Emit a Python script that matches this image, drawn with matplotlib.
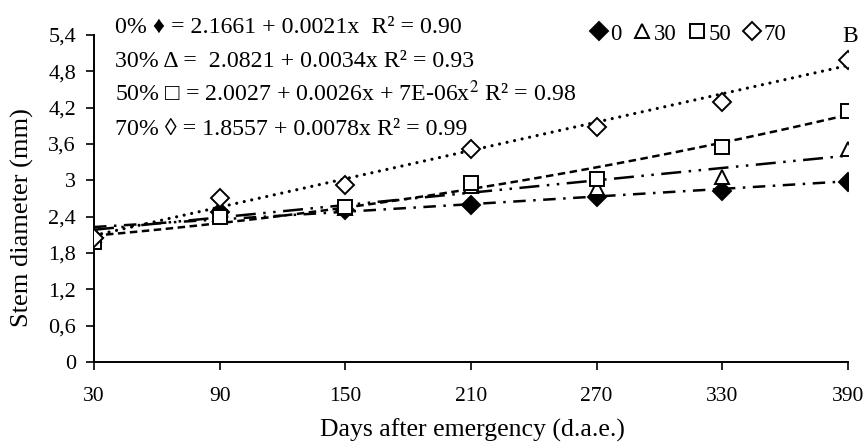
import numpy as np
import matplotlib
matplotlib.use("Agg")
import matplotlib.pyplot as plt
from matplotlib.lines import Line2D

plt.rcParams['font.family'] = ['Liberation Serif', 'DejaVu Serif']
plt.rcParams['mathtext.fontset'] = 'stix'

# days after emergency
days = [30, 90, 150, 210, 270, 330, 390]

# stem diameter (mm) for each shading level
sd_0 = [2.05, 2.48, 2.51, 2.59, 2.72, 2.83, 2.97]
sd_30 = [2.10, 2.45, 2.54, 2.90, 2.88, 3.05, 3.51]
sd_50 = [1.98, 2.40, 2.56, 2.96, 3.02, 3.55, 4.15]
sd_70 = [2.05, 2.71, 2.92, 3.51, 3.88, 4.30, 4.98]

# fitted coefficients (c0, c1, c2)
coef_0 = [2.1661, 0.0021, 0.0]
coef_30 = [2.0821, 0.0034, 0.0]
coef_50 = [2.0027, 0.0026, 7e-06]
coef_70 = [1.8557, 0.0078, 0.0]

eq_labels = ["0% \u2666 = 2.1661 + 0.0021x  R\u00b2 = 0.90",
             "30% \u0394 =  2.0821 + 0.0034x R\u00b2 = 0.93",
             "50% \u25a1 = 2.0027 + 0.0026x + 7E-06x$^2$ R\u00b2 = 0.98",
             "70% \u25ca = 1.8557 + 0.0078x R\u00b2 = 0.99"]

yticks = [0, 0.6, 1.2, 1.8, 2.4, 3.0, 3.6, 4.2, 4.8, 5.4]
ytick_labels = ['0', '0,6', '1,2', '1,8', '2,4', '3', '3,6', '4,2', '4,8', '5,4']

W, H = 866, 443
fig = plt.figure(figsize=(8.66, 4.43), dpi=100)
ax = fig.add_axes([94 / W, 1 - 362 / H, (848 - 94) / W, (362 - 35) / H])

xx = np.linspace(30, 390, 200)
# (values, coefficients, marker, face, dash pattern, line width, label)
series = [
    (sd_0, coef_0, 'D', 'k', (0, (5, 3, 1, 3)), 1.8, '0'),
    (sd_30, coef_30, '^', 'white', (0, (8, 3, 1, 3, 1, 3)), 1.8, '30'),
    (sd_50, coef_50, 's', 'white', (0, (3, 1.8)), 1.8, '50'),
    (sd_70, coef_70, 'D', 'white', (0, (0.01, 2.4)), 2.3, '70'),
]
handles = []
for vals, c, mk, fc, ls, lw, lab in series:
    fit = c[0] + c[1] * xx + c[2] * xx ** 2
    ax.plot(xx, fit, color='k', lw=lw, linestyle=ls,
            dash_capstyle='round' if lab == '70' else 'butt', zorder=2)
    ms = 9 if mk == 'D' else 9.5
    ax.plot(days, vals, linestyle='none', marker=mk, markersize=ms,
            markerfacecolor=fc, markeredgecolor='k', markeredgewidth=1.4,
            zorder=3)
    handles.append(Line2D([], [], linestyle='none', marker=mk, markersize=ms,
                          markerfacecolor=fc, markeredgecolor='k',
                          markeredgewidth=1.4, label=lab))

ax.set_xlim(30, 390)
ax.set_ylim(0, 5.4)
ax.set_xticks(days)
ax.set_yticks(yticks)
ax.set_yticklabels(ytick_labels)
ax.tick_params(direction='out', length=6, width=1.2)
ax.tick_params(axis='y', labelsize=16, pad=7)
ax.tick_params(axis='x', labelsize=15.5, pad=12)
for s in ['top', 'right']:
    ax.spines[s].set_visible(False)
for s in ['left', 'bottom']:
    ax.spines[s].set_linewidth(1.4)

fig.text(472 / W, 1 - 437 / H, 'Days after emergency (d.a.e.)', fontsize=18.5,
         ha='center', va='baseline')
fig.text(22 / W, 1 - 218 / H, 'Stem diameter (mm)', fontsize=19,
         ha='center', va='center', rotation=90)

base_y = [33, 67, 101, 135]
for t, by in zip(eq_labels, base_y):
    fig.text(115 / W, 1 - by / H, t, fontsize=17.2, va='baseline', ha='left')

fig.legend(handles=handles, loc='center left',
           bbox_to_anchor=(592 / W, 1 - 34 / H),
           ncol=4, frameon=False, fontsize=16.5, handlelength=0.6,
           handletextpad=0.2, columnspacing=0.6, borderpad=0, borderaxespad=0)

fig.text(858 / W, 1 - 42 / H, 'B', fontsize=17, ha='right', va='baseline')

fig.savefig('out.png', dpi=100)
